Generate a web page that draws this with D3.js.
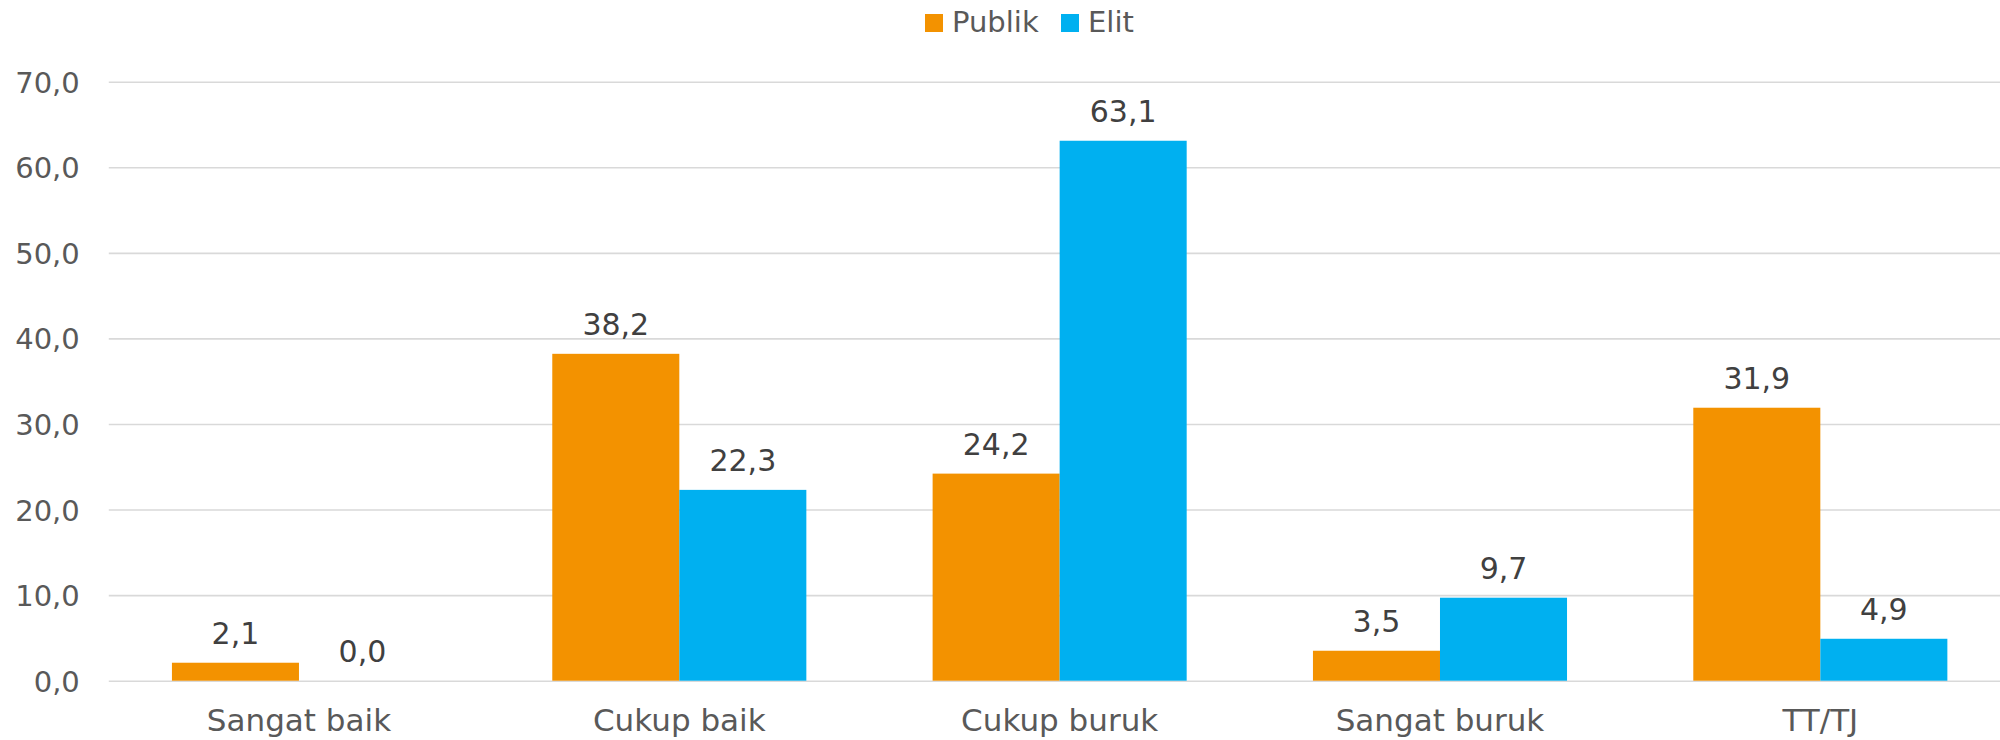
<!DOCTYPE html>
<html>
<head>
<meta charset="utf-8">
<script src="https://cdn.jsdelivr.net/npm/d3@7"></script>
<style>
  html, body { margin: 0; padding: 0; background: #ffffff; }
  svg { display: block; font-family: "DejaVu Sans", sans-serif; }
</style>
</head>
<body>
<svg id="chart" width="2000" height="740"></svg>
<script>
// ---- data ----
const categories = ["Sangat baik", "Cukup baik", "Cukup buruk", "Sangat buruk", "TT/TJ"];
const seriesNames = ["Publik", "Elit"];
const publikValues = [2.1, 38.2, 24.2, 3.5, 31.9];
const elitValues = [0.0, 22.3, 63.1, 9.7, 4.9];
const yTickValues = [0, 10, 20, 30, 40, 50, 60, 70];
const seriesColors = ["#F39200", "#00B0F0"];

// ---- layout ----
const W = 2000, H = 740;
const plotLeft = 108.8, plotRight = 2010.5;
const yZero = 680.7, yTop = 81.7;

const svg = d3.select("#chart");

const x0 = d3.scaleBand().domain(categories).range([plotLeft, plotRight]).paddingInner(0).paddingOuter(0);
const x1 = d3.scaleBand().domain(seriesNames).range([0, x0.bandwidth()]).paddingInner(0).paddingOuter(0.497);
const y = d3.scaleLinear().domain([0, 70]).range([yZero, yTop]);
const color = d3.scaleOrdinal().domain(seriesNames).range(seriesColors);
const fmt = v => d3.format(".1f")(v).replace(".", ",");

// gridlines + y axis labels
const yAxis = d3.axisLeft(y).tickValues(yTickValues).tickFormat(fmt)
  .tickSize(-(W - plotLeft)).tickPadding(29);
const yg = svg.append("g").attr("transform", `translate(${plotLeft},0)`).call(yAxis);
yg.select(".domain").remove();
yg.selectAll(".tick line").attr("stroke", "#d9d9d9").attr("stroke-width", 1.6);
yg.selectAll(".tick text").attr("fill", "#595959").attr("font-size", 29)
  .attr("font-family", "DejaVu Sans").attr("dy", "0.36em");

// data table
const rows = categories.map((c, i) => ({
  category: c,
  values: [
    { series: seriesNames[0], value: publikValues[i] },
    { series: seriesNames[1], value: elitValues[i] }
  ]
}));

const groups = svg.append("g").selectAll("g").data(rows).join("g")
  .attr("transform", d => `translate(${x0(d.category)},0)`);

groups.selectAll("rect").data(d => d.values).join("rect")
  .attr("x", d => x1(d.series))
  .attr("width", x1.bandwidth())
  .attr("y", d => y(d.value))
  .attr("height", d => y(0) - y(d.value))
  .attr("fill", d => color(d.series));

groups.selectAll("text").data(d => d.values).join("text")
  .attr("x", d => x1(d.series) + x1.bandwidth() / 2)
  .attr("y", d => y(d.value) - 19)
  .attr("text-anchor", "middle")
  .attr("fill", "#404040")
  .attr("font-size", 30)
  .text(d => fmt(d.value));

// x axis labels
const xAxis = d3.axisBottom(x0).tickSize(0).tickPadding(0);
const xg = svg.append("g").attr("transform", `translate(0,${yZero})`).call(xAxis);
xg.select(".domain").remove();
xg.selectAll(".tick text").attr("fill", "#595959").attr("font-size", 31)
  .attr("font-family", "DejaVu Sans")
  .attr("y", 50).attr("dy", 0);

// legend
const legendX = [925, 1061];
const legend = svg.append("g").selectAll("g").data(seriesNames).join("g")
  .attr("transform", (d, i) => `translate(${legendX[i]},14)`);
legend.append("rect").attr("width", 18).attr("height", 18).attr("fill", d => color(d));
legend.append("text").attr("x", 27).attr("y", 18).attr("fill", "#595959")
  .attr("font-size", 29).text(d => d);
</script>
</body>
</html>
